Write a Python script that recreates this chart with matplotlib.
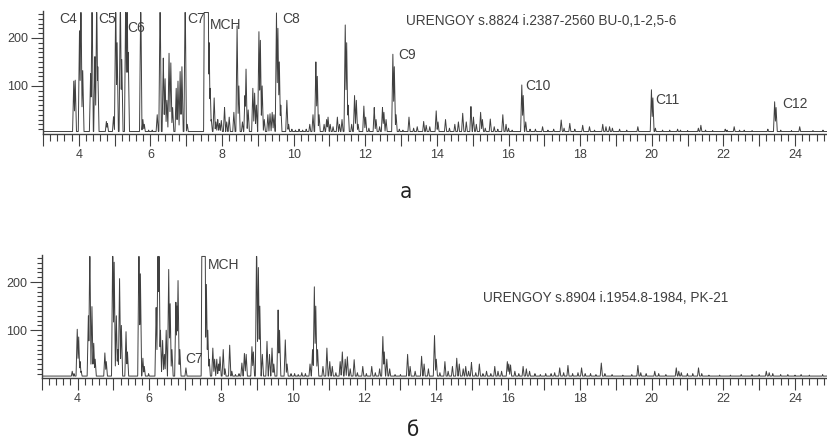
import numpy as np
import matplotlib.pyplot as plt
from matplotlib.ticker import MultipleLocator, FixedLocator, FuncFormatter

# retention time (min) and peak height
# off-scale peaks are given as 300 / 600 (detector saturates at the top)
top_t = [3.86, 3.90, 4.02, 4.06, 4.11, 4.33, 4.37, 4.45, 4.50, 4.53, 4.77, 4.80, 4.97,
         5.03, 5.07, 5.16, 5.20, 5.31, 5.35, 5.38, 5.73, 5.79, 5.83, 5.95, 6.05, 6.19,
         6.27, 6.36, 6.41, 6.46, 6.52, 6.57, 6.62, 6.72, 6.77, 6.83, 6.88, 6.97, 7.03,
         7.52, 7.56, 7.60, 7.64, 7.67, 7.70, 7.78, 7.83, 7.88, 7.93, 7.98, 8.07, 8.13, 8.20,
         8.33, 8.42, 8.47, 8.57, 8.64, 8.67, 8.73, 8.86, 8.91, 8.96, 9.03, 9.07, 9.12,
         9.18, 9.28, 9.34, 9.40, 9.45, 9.52, 9.56, 9.60, 9.64, 9.81, 9.86, 9.95, 10.05,
         10.15, 10.25, 10.35, 10.45, 10.54, 10.62, 10.66, 10.71, 10.85, 10.92, 10.96,
         11.02, 11.10, 11.22, 11.28, 11.35, 11.44, 11.48, 11.52, 11.62, 11.70, 11.75,
         11.80, 11.96, 12.01, 12.10, 12.25, 12.30, 12.40, 12.48, 12.52, 12.58, 12.77,
         12.81, 12.86, 12.95, 13.05, 13.22, 13.35, 13.45, 13.63, 13.70, 13.80, 13.98,
         14.03, 14.24, 14.35, 14.50, 14.60, 14.72, 14.82, 14.95, 15.02, 15.10, 15.22,
         15.27, 15.35, 15.49, 15.60, 15.70, 15.84, 15.93, 16.00, 16.10, 16.37, 16.41,
         16.48, 16.60, 16.75, 16.95, 17.10, 17.26, 17.47, 17.55, 17.71, 17.85, 18.07,
         18.26, 18.40, 18.63, 18.72, 18.82, 18.90, 19.10, 19.30, 19.61, 19.99, 20.03,
         20.10, 20.30, 20.50, 20.72, 20.80, 21.00, 21.30, 21.37, 21.50, 21.70, 22.05,
         22.10, 22.30, 22.45, 22.58, 22.80, 23.24, 23.43, 23.47, 23.60, 23.90, 24.13,
         24.50, 24.78]
top_h = [110, 112, 215, 300, 132, 126, 300, 161, 300, 140, 26, 22, 36,
         300, 190, 300, 155, 300, 300, 170, 300, 30, 20, 8, 8, 40,
         300, 158, 115, 70, 168, 148, 55, 95, 110, 130, 140, 300, 20,
         600, 600, 600, 190, 95, 30, 75, 25, 30, 22, 28, 55, 25, 35,
         45, 225, 100, 25, 80, 135, 50, 95, 85, 60, 213, 195, 100,
         30, 40, 42, 45, 40, 252, 220, 150, 60, 70, 20, 10, 8,
         10, 8, 10, 20, 40, 150, 120, 40, 20, 30, 35,
         20, 15, 35, 20, 30, 227, 190, 60, 20, 80, 70,
         20, 58, 35, 12, 55, 30, 15, 55, 45, 30, 166,
         140, 40, 10, 8, 35, 12, 15, 26, 18, 15, 48,
         25, 30, 12, 20, 25, 43, 25, 57, 35, 20, 45,
         30, 12, 31, 15, 10, 40, 20, 12, 8, 102, 80,
         25, 10, 10, 15, 8, 10, 29, 12, 22, 10, 18,
         15, 8, 20, 15, 15, 12, 10, 8, 15, 92, 75,
         12, 8, 8, 10, 8, 7, 12, 18, 8, 7, 10,
         8, 15, 8, 8, 7, 10, 67, 55, 8, 7, 15,
         7, 8]

bot_t = [3.85, 3.90, 3.99, 4.03, 4.07, 4.10, 4.30, 4.34, 4.40, 4.45, 4.49, 4.76, 4.80,
         4.98, 5.02, 5.08, 5.12, 5.17, 5.22, 5.35, 5.39, 5.71, 5.75, 5.82, 5.86, 5.98,
         6.19, 6.24, 6.27, 6.31, 6.37, 6.42, 6.47, 6.54, 6.58, 6.63, 6.74, 6.77, 6.80,
         6.85, 7.02, 7.48, 7.51, 7.54, 7.59, 7.63, 7.67, 7.77, 7.82, 7.88, 7.93, 7.97, 8.06,
         8.11, 8.24, 8.30, 8.40, 8.50, 8.58, 8.65, 8.70, 8.86, 8.90, 8.99, 9.04, 9.08,
         9.15, 9.28, 9.35, 9.42, 9.47, 9.59, 9.63, 9.79, 9.84, 9.95, 10.05, 10.15, 10.25,
         10.35, 10.48, 10.55, 10.60, 10.64, 10.69, 10.84, 10.95, 11.03, 11.10, 11.20,
         11.32, 11.38, 11.46, 11.52, 11.60, 11.71, 11.80, 11.95, 12.05, 12.20, 12.30,
         12.42, 12.51, 12.55, 12.62, 12.70, 12.85, 13.00, 13.20, 13.27, 13.41, 13.59,
         13.66, 13.78, 13.95, 14.00, 14.10, 14.24, 14.33, 14.45, 14.57, 14.64, 14.75,
         14.82, 14.90, 14.98, 15.10, 15.20, 15.30, 15.40, 15.52, 15.63, 15.72, 15.82,
         15.98, 16.02, 16.07, 16.19, 16.30, 16.42, 16.51, 16.60, 16.75, 16.90, 17.05,
         17.20, 17.30, 17.44, 17.55, 17.67, 17.80, 17.95, 18.05, 18.15, 18.30, 18.45,
         18.60, 18.70, 18.90, 19.20, 19.45, 19.62, 19.70, 19.85, 20.09, 20.20, 20.40,
         20.69, 20.76, 20.83, 21.00, 21.15, 21.31, 21.40, 21.60, 21.90, 22.20, 22.50,
         22.80, 23.00, 23.20, 23.28, 23.38, 23.60, 23.80, 24.00, 24.17, 24.40, 24.77]
bot_h = [15, 10, 102, 86, 35, 15, 130, 300, 149, 73, 40, 53, 35,
         300, 241, 130, 60, 207, 110, 97, 55, 300, 217, 42, 25, 10,
         147, 300, 300, 100, 79, 50, 100, 226, 155, 60, 158, 150, 203,
         60, 22, 600, 600, 600, 195, 100, 40, 63, 40, 40, 30, 45, 60,
         20, 69, 15, 8, 10, 32, 52, 50, 66, 55, 300, 230, 150,
         50, 77, 50, 63, 30, 142, 100, 80, 30, 10, 10, 8, 12,
         10, 30, 60, 190, 150, 60, 25, 63, 35, 25, 12,
         35, 55, 40, 45, 20, 39, 12, 25, 10, 25, 12,
         20, 87, 55, 40, 20, 8, 8, 50, 25, 15, 46,
         30, 20, 89, 40, 12, 35, 15, 25, 42, 30, 20,
         25, 15, 33, 12, 30, 10, 15, 10, 25, 15, 15,
         35, 30, 28, 15, 10, 25, 20, 15, 10, 8, 10,
         10, 12, 22, 12, 27, 10, 12, 22, 10, 10, 8,
         32, 10, 8, 7, 8, 27, 12, 10, 15, 10, 8,
         22, 15, 12, 10, 10, 22, 10, 7, 7, 7, 8,
         8, 8, 15, 12, 10, 8, 8, 7, 8, 7, 8]

top_labels = ['C4', 'C5', 'C6', 'C7', 'MCH', 'C8', 'C9', 'C10', 'C11', 'C12']
top_label_x = [3.46, 4.55, 5.36, 7.04, 7.66, 9.69, 12.93, 16.48, 20.11, 23.65]
top_label_y = [254, 254, 235, 254, 242, 254, 179, 114, 85, 77]
bot_labels = ['MCH', 'C7']
bot_label_x = [7.62, 7.0]
bot_label_y = [250, 55]

top_title = 'URENGOY s.8824 i.2387-2560 BU-0,1-2,5-6'
bot_title = 'URENGOY s.8904 i.1954.8-1984, PK-21'

grid = np.arange(3.0, 24.95, 0.002)


def trace(times, heights, base=5, hw=0.035, top=253):
    # each peak drawn as a narrow spike, overlapping peaks take the upper envelope
    t = np.asarray(times, float)[:, None]
    h = np.asarray(heights, float)[:, None]
    spikes = h * (1 - np.abs(grid - t) / hw)
    return np.minimum(np.maximum(base, spikes.max(axis=0)), top)


ink = '#404040'
plt.rcParams['font.family'] = ['Liberation Sans', 'DejaVu Sans']

fig = plt.figure(figsize=(8.28, 4.42), dpi=100)
ax1 = fig.add_axes([0.0519, 0.697, 0.9481, 0.278])
ax2 = fig.add_axes([0.0504, 0.1437, 0.9496, 0.2794])

panels = [(ax1, top_t, top_h, top_labels, top_label_x, top_label_y, top_title, 13.15, 250),
          (ax2, bot_t, bot_h, bot_labels, bot_label_x, bot_label_y, bot_title, 15.3, 182)]

for ax, ts, hs, labs, lx, ly, title, tx, ty in panels:
    ax.plot(grid, trace(ts, hs), color=ink, lw=0.7)
    ax.set_xlim(3.0, 24.92)
    ax.set_ylim(0, 256)
    for s in ['top', 'right']:
        ax.spines[s].set_visible(False)
    for s in ['left', 'bottom']:
        ax.spines[s].set_color(ink)
        ax.spines[s].set_linewidth(1)
    ax.xaxis.set_major_locator(MultipleLocator(1))
    ax.xaxis.set_minor_locator(MultipleLocator(0.2))
    ax.xaxis.set_major_formatter(FuncFormatter(lambda v, p: f'{v:.0f}' if round(v) % 2 == 0 else ''))
    ax.yaxis.set_major_locator(FixedLocator([100, 200]))
    ax.yaxis.set_minor_locator(FixedLocator(np.arange(10, 256, 10)))
    ax.tick_params(which='major', length=8.5, width=0.8, color=ink, labelcolor=ink, labelsize=9, pad=2)
    ax.tick_params(which='minor', length=5, width=0.8, color=ink)
    ax.tick_params(axis='y', which='minor', length=3.5)
    for lab, x, y in zip(labs, lx, ly):
        ax.text(x, y, lab, fontsize=10, color=ink, ha='left', va='top')
    ax.text(tx, ty, title, fontsize=9.8, color=ink, ha='left', va='top')

fig.text(0.490, 0.566, 'а', fontsize=16, color='#222222', ha='center', va='center',
         stretch='condensed', family=['Liberation Sans Narrow', 'DejaVu Sans'])
fig.text(0.499, 0.027, 'б', fontsize=16, color='#222222', ha='center', va='center',
         stretch='condensed', family=['Liberation Sans Narrow', 'DejaVu Sans'])

fig.savefig('out.png', dpi=100)
